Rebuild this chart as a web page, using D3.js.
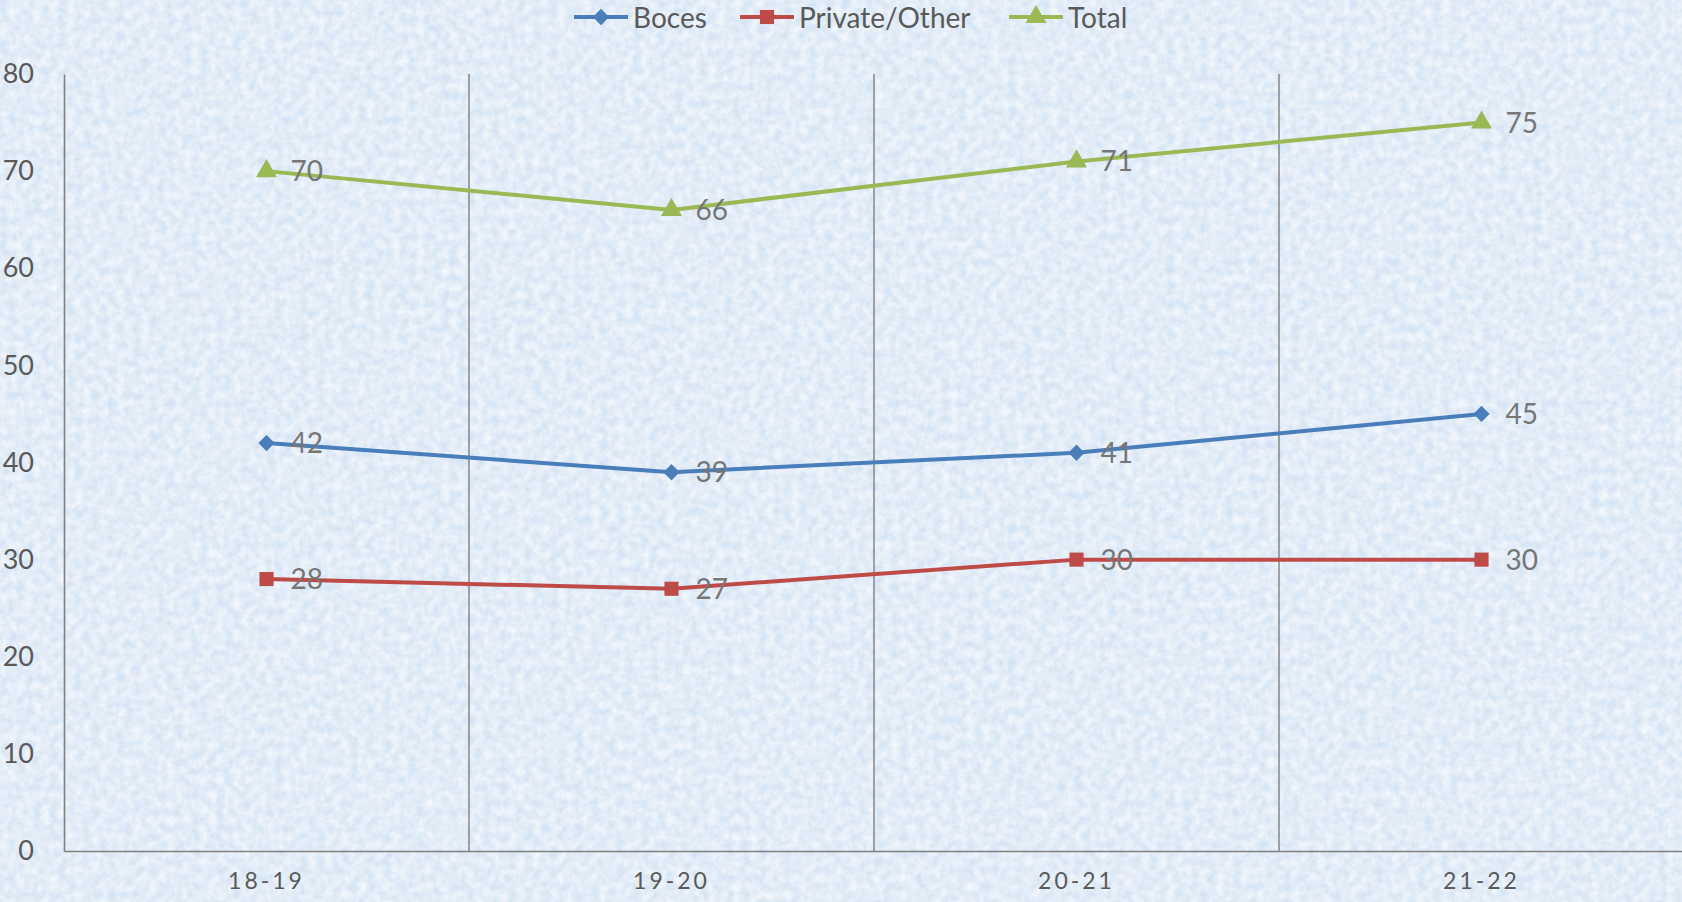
<!DOCTYPE html>
<html>
<head>
<meta charset="utf-8">
<script src="https://cdn.jsdelivr.net/npm/d3@7"></script>
<style>
  html, body { margin: 0; padding: 0; background: #d8e7f6; }
  svg { display: block; }
  text { font-family: Lato, "Open Sans", sans-serif; }
</style>
</head>
<body>
<div id="chart"></div>
<script>
// chart values
var years = ["18-19", "19-20", "20-21", "21-22"];
var boces = [42, 39, 41, 45];
var privateOther = [28, 27, 30, 30];
var total = [70, 66, 71, 75];
var yTicks = [0, 10, 20, 30, 40, 50, 60, 70, 80];

var seriesList = [
  {name: "Boces", values: boces, color: "#4a7ebb", shape: "diamond"},
  {name: "Private/Other", values: privateOther, color: "#be4b48", shape: "square"},
  {name: "Total", values: total, color: "#98b954", shape: "triangle"}
];

var W = 1682, H = 902;
var margin = {top: 74, right: -2, bottom: 51, left: 64};
var plotW = W - margin.left - margin.right,
    plotH = H - margin.top - margin.bottom;

var svg = d3.select("#chart").append("svg")
    .attr("width", W)
    .attr("height", H);

// fine speckled light blue paper background
var defs = svg.append("defs");
var filt = defs.append("filter").attr("id", "paper")
    .attr("x", 0).attr("y", 0).attr("width", "100%").attr("height", "100%");
filt.append("feTurbulence")
    .attr("type", "fractalNoise")
    .attr("baseFrequency", "0.12")
    .attr("numOctaves", 3)
    .attr("seed", 3)
    .attr("result", "noise");
filt.append("feColorMatrix")
    .attr("in", "noise")
    .attr("type", "matrix")
    .attr("values", "0 0 0 0 1  0 0 0 0 1  0 0 0 0 1  0 0 1.1 0 -0.25")
    .attr("result", "spots");
filt.append("feComposite").attr("in", "spots").attr("in2", "SourceGraphic").attr("operator", "over");

svg.append("rect")
    .attr("width", W).attr("height", H)
    .attr("fill", "#d5e4f4")
    .attr("filter", "url(#paper)");

var g = svg.append("g")
    .attr("transform", "translate(" + margin.left + "," + margin.top + ")");

var x = d3.scaleBand()
    .domain(years)
    .range([0, plotW])
    .padding(0);

var y = d3.scaleLinear()
    .domain([0, 80])
    .range([plotH, 0]);

// vertical gridlines between categories
g.selectAll(".vgrid")
    .data(years.slice(1).concat(["end"]))
  .enter().append("line")
    .attr("class", "vgrid")
    .attr("x1", function(d, i) { return x.bandwidth() * (i + 1); })
    .attr("x2", function(d, i) { return x.bandwidth() * (i + 1); })
    .attr("y1", 0)
    .attr("y2", plotH)
    .attr("stroke", "#7f7f7f")
    .attr("stroke-width", 1.4);

// y axis
var yAxis = g.append("g")
    .call(d3.axisLeft(y).tickValues(yTicks).tickSize(0).tickPadding(30));
yAxis.select(".domain").attr("stroke", "#7f7f7f").attr("stroke-width", 1.6);
yAxis.selectAll("text")
    .attr("fill", "#595959")
    .style("font-size", "27px")
    .style("font-family", "Lato, 'Open Sans', sans-serif");

// x axis
var xAxis = g.append("g")
    .attr("transform", "translate(0," + plotH + ")")
    .call(d3.axisBottom(x).tickSize(0).tickPadding(22));
xAxis.select(".domain").attr("stroke", "#7f7f7f").attr("stroke-width", 1.6);
xAxis.selectAll("text")
    .attr("fill", "#595959")
    .attr("dy", "0.71em")
    .style("font-size", "23px")
    .style("letter-spacing", "3px")
    .style("font-family", "Lato, 'Open Sans', sans-serif");

function cx(d, i) { return x(years[i]) + x.bandwidth() / 2; }

var symbolFor = {
  diamond: d3.symbol().type(d3.symbolDiamond2).size(170),
  square: d3.symbol().type(d3.symbolSquare).size(200),
  triangle: d3.symbol().type(d3.symbolTriangle).size(190)
};

var line = d3.line()
    .x(function(d, i) { return cx(d, i); })
    .y(function(d) { return y(d); });

seriesList.forEach(function(s) {
  var sg = g.append("g").attr("class", "series");

  sg.append("path")
      .datum(s.values)
      .attr("fill", "none")
      .attr("stroke", s.color)
      .attr("stroke-width", 4)
      .attr("stroke-linejoin", "round")
      .attr("d", line);

  sg.selectAll(".marker")
      .data(s.values)
    .enter().append("path")
      .attr("class", "marker")
      .attr("transform", function(d, i) { return "translate(" + cx(d, i) + "," + y(d) + ")"; })
      .attr("d", symbolFor[s.shape])
      .attr("fill", s.color);

  sg.selectAll(".lbl")
      .data(s.values)
    .enter().append("text")
      .attr("class", "lbl")
      .attr("x", function(d, i) { return cx(d, i) + 24; })
      .attr("y", function(d) { return y(d); })
      .attr("dy", "0.36em")
      .attr("fill", "#767676")
      .style("font-size", "28px")
      .text(function(d) { return d; });
});

// legend
var legendX = [574, 740, 1009];
var legend = svg.append("g").attr("class", "legend");
seriesList.forEach(function(s, i) {
  var lg = legend.append("g").attr("transform", "translate(" + legendX[i] + ",17)");
  lg.append("line")
      .attr("x1", 0).attr("x2", 54)
      .attr("stroke", s.color)
      .attr("stroke-width", 4);
  lg.append("path")
      .attr("transform", "translate(27,0)")
      .attr("d", symbolFor[s.shape])
      .attr("fill", s.color);
  lg.append("text")
      .attr("x", 59)
      .attr("y", 11)
      .attr("fill", "#595959")
      .style("font-size", "28px")
      .text(s.name);
});
</script>
</body>
</html>
